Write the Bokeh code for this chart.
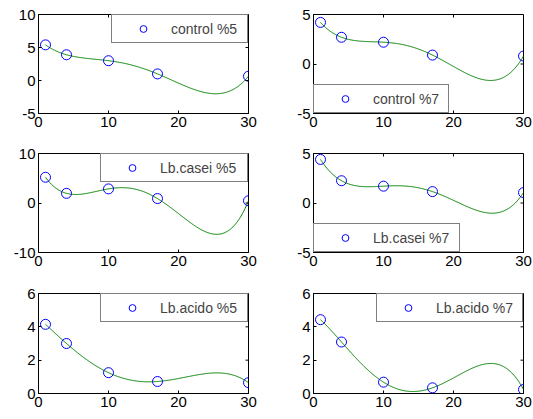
import numpy as np
from bokeh.plotting import figure
from bokeh.layouts import column, row
from bokeh.models import Range1d, FixedTicker, Legend, LegendItem, ColumnDataSource
from bokeh.embed import file_html
from bokeh.resources import INLINE

# sampling days shared by every panel
days = [1, 4, 10, 17, 30]

# measured values per group
control_5 = [5.4, 3.9, 3.0, 1.0, 0.65]
control_7 = [4.2, 2.7, 2.2, 0.9, 0.8]
casei_5 = [5.2, 1.95, 2.85, 0.9, 0.45]
casei_7 = [4.4, 2.25, 1.7, 1.15, 1.05]
acido_5 = [4.15, 3.0, 1.25, 0.72, 0.65]
acido_7 = [4.43, 3.09, 0.68, 0.34, 0.24]

labels = ["control %5", "control %7", "Lb.casei %5", "Lb.casei %7",
          "Lb.acido %5", "Lb.acido %7"]
x_ticks = [0, 10, 20, 30]

FONT = "Liberation Sans"
TICK = 3


def panel(ys, label, yr, yticks, loc, left, right, top, bottom, w, h, label_w):
    p = figure(width=w, height=h, output_backend="svg", toolbar_location=None,
               x_range=Range1d(0, 30), y_range=Range1d(*yr),
               min_border_left=left, min_border_right=right,
               min_border_top=top, min_border_bottom=bottom)
    p.grid.visible = False
    p.outline_line_color = "black"
    p.outline_line_width = 1
    p.background_fill_color = "white"
    p.border_fill_color = "white"

    # fourth-order polynomial through the five observations
    coef = np.polyfit(days, ys, 4)
    xs = np.linspace(days[0], days[-1], 300)
    p.line(xs, np.polyval(coef, xs), line_color="#008000", line_width=1)
    src = ColumnDataSource(dict(x=days, y=ys))
    pts = p.scatter("x", "y", source=src, marker="circle", size=10,
                    fill_color=None, line_color="#0000ff", line_width=1)

    for ax, ticks in ((p.xaxis[0], x_ticks), (p.yaxis[0], yticks)):
        ax.ticker = FixedTicker(ticks=ticks)
        ax.major_tick_in = TICK
        ax.major_tick_out = 0
        ax.minor_tick_line_color = None
        ax.axis_line_color = "black"
        ax.major_label_text_font = FONT
        ax.major_label_text_font_size = "15px"
        ax.major_label_text_color = "black"
        ax.major_label_standoff = 3
        ax.major_label_overrides = {t: str(t) for t in ticks if t < 0}

    # boxed axes: short inward ticks on the top and right edges as well
    p.ray(x=x_ticks, y=[yr[1]] * len(x_ticks), length=TICK, length_units="screen",
          angle=-np.pi / 2, line_color="black", line_width=1)
    p.ray(x=[30] * len(yticks), y=yticks, length=TICK, length_units="screen",
          angle=np.pi, line_color="black", line_width=1)

    leg = Legend(items=[LegendItem(label=label, renderers=[pts])],
                 location=loc, margin=0, padding=5, spacing=0,
                 glyph_width=52, glyph_height=17, label_standoff=2,
                 label_width=label_w, label_height=17,
                 label_text_font=FONT, label_text_font_size="14px",
                 border_line_color="black", border_line_width=1.2,
                 background_fill_color="white", background_fill_alpha=1)
    p.add_layout(leg, "center")
    return p


p1 = panel(control_5, labels[0], (-5, 10), [-5, 0, 5, 10], "top_right", 38, 18, 14, 27, 266, 140, 71)
p2 = panel(control_7, labels[1], (-5, 5), [-5, 0, 5], "bottom_left", 47, 10, 14, 27, 267, 140, 70)
p3 = panel(casei_5, labels[2], (-10, 10), [-10, 0, 10], "top_right", 38, 18, 13, 28, 266, 140, 82)
p4 = panel(casei_7, labels[3], (-5, 5), [-5, 0, 5], "bottom_left", 47, 10, 13, 28, 267, 140, 81)
p5 = panel(acido_5, labels[4], (0, 6), [0, 2, 4, 6], "top_right", 38, 18, 13, 26, 266, 139, 82)
p6 = panel(acido_7, labels[5], (0, 6), [0, 2, 4, 6], "top_right", 47, 10, 13, 26, 267, 139, 81)

layout = column(row(p1, p2), row(p3, p4), row(p5, p6))
open("out.html", "w").write(file_html(layout, INLINE))
